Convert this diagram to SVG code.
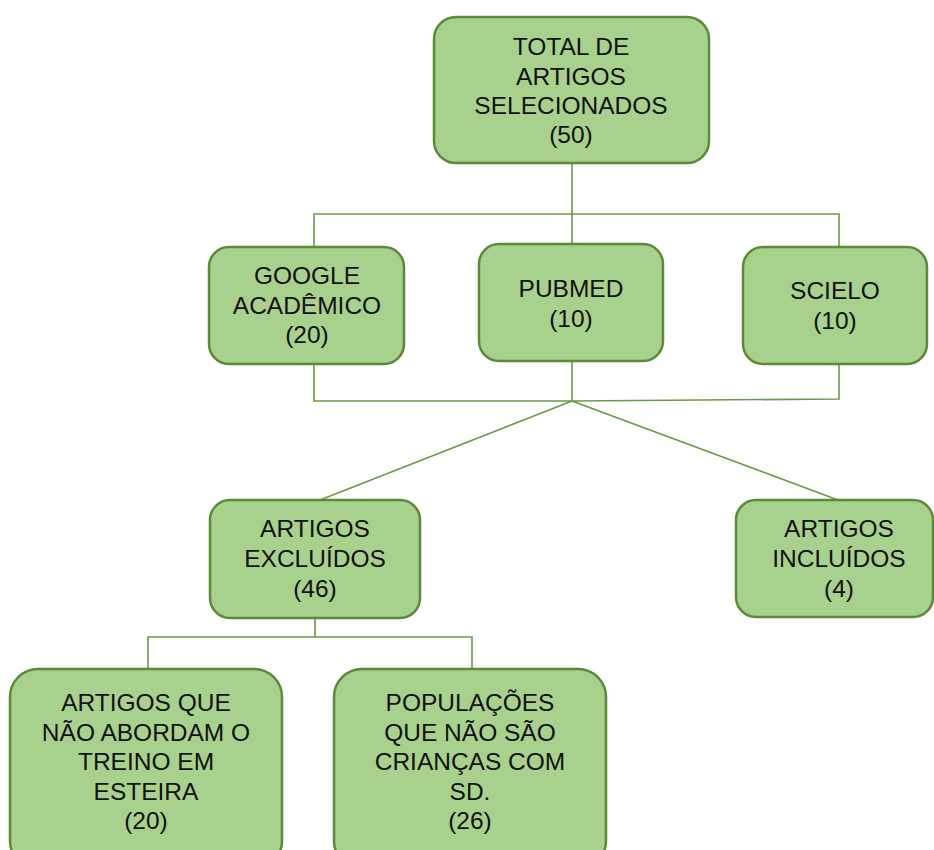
<svg xmlns="http://www.w3.org/2000/svg" width="934" height="850" viewBox="0 0 934 850">
<style>
.box{fill:#a9d18e;stroke:#5b8a3a;stroke-width:2.5}
.t{font-family:"Liberation Sans",Arial,sans-serif;font-size:24.5px;fill:#111;text-anchor:middle}
.c{fill:none;stroke:#6b9a48;stroke-width:1.6}
</style>
<rect width="934" height="850" fill="#fff"/>
<g id="connectors">
<path class="c" d="M572 163V244M314 248V214H839V248"/>
<path class="c" d="M314 365V401L572 401L839 399V364M572 362V401M572 401L320 500M572 401L838 500"/>
<path class="c" d="M315 618V637M148 669V637H472V669"/>
</g>
<g id="total">
<rect class="box" x="434" y="17" width="275" height="146" rx="22"/>
<text class="t" x="571" y="55">TOTAL DE</text>
<text class="t" x="571" y="85">ARTIGOS</text>
<text class="t" x="571" y="114">SELECIONADOS</text>
<text class="t" x="571" y="143">(50)</text>
</g>
<g id="google">
<rect class="box" x="209" y="247" width="195" height="117" rx="20"/>
<text class="t" x="307" y="284">GOOGLE</text>
<text class="t" x="307" y="314">ACADÊMICO</text>
<text class="t" x="307" y="343">(20)</text>
</g>
<g id="pubmed">
<rect class="box" x="479" y="244" width="184" height="117" rx="20"/>
<text class="t" x="571" y="297">PUBMED</text>
<text class="t" x="571" y="327">(10)</text>
</g>
<g id="scielo">
<rect class="box" x="743" y="247" width="184" height="117" rx="20"/>
<text class="t" x="835" y="299">SCIELO</text>
<text class="t" x="835" y="329">(10)</text>
</g>
<g id="excluidos">
<rect class="box" x="210" y="500" width="210" height="118" rx="20"/>
<text class="t" x="315" y="537">ARTIGOS</text>
<text class="t" x="315" y="567">EXCLUÍDOS</text>
<text class="t" x="315" y="597">(46)</text>
</g>
<g id="incluidos">
<rect class="box" x="736" y="500" width="197" height="117" rx="20"/>
<text class="t" x="839" y="537">ARTIGOS</text>
<text class="t" x="839" y="567">INCLUÍDOS</text>
<text class="t" x="839" y="597">(4)</text>
</g>
<g id="nao-abordam">
<rect class="box" x="10" y="669" width="272" height="200" rx="28"/>
<text class="t" x="146" y="711">ARTIGOS QUE</text>
<text class="t" x="146" y="741">NÃO ABORDAM O</text>
<text class="t" x="146" y="770">TREINO EM</text>
<text class="t" x="146" y="800">ESTEIRA</text>
<text class="t" x="146" y="829">(20)</text>
</g>
<g id="populacoes">
<rect class="box" x="334" y="669" width="272" height="200" rx="28"/>
<text class="t" x="470" y="711">POPULAÇÕES</text>
<text class="t" x="470" y="741">QUE NÃO SÃO</text>
<text class="t" x="470" y="770">CRIANÇAS COM</text>
<text class="t" x="470" y="800">SD.</text>
<text class="t" x="470" y="829">(26)</text>
</g>
</svg>
